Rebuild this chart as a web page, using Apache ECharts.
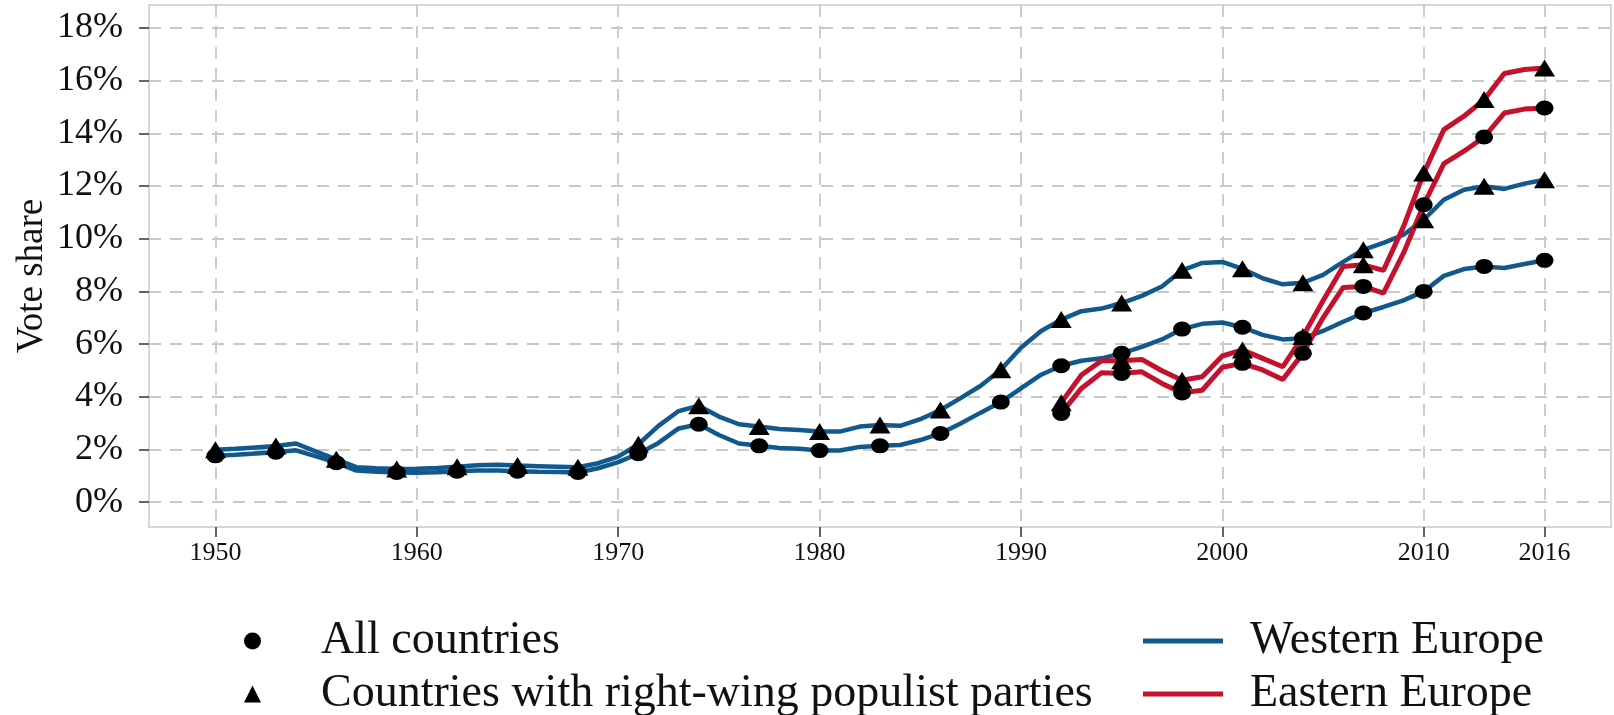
<!DOCTYPE html>
<html>
    <head>
        <meta charset=utf-8>
        <style>
            html, body { margin: 0; padding: 0; background: #fff; }
        </style>
    </head>
    <body>
        <div id="chart" style="width:1614px;height:715px"></div>
        <script src="https://cdn.jsdelivr.net/npm/echarts@6/dist/echarts.min.js"></script>
        <script type="text/javascript">

            var myChart = echarts.init(document.querySelector('#chart'));

            // years 1950..2016, one value per year (vote share, %)
            let years = []
            for (let y = 1950; y <= 2016; y++) years.push(y)

            let westAll = [
                1.76, 1.80, 1.85, 1.90, 1.97, 1.74, 1.50, 1.20, 1.16, 1.13,
                1.12, 1.14, 1.18, 1.20, 1.20, 1.18, 1.16, 1.15, 1.13, 1.29,
                1.52, 1.84, 2.25, 2.80, 2.96, 2.55, 2.23, 2.14, 2.06, 2.03,
                1.96, 1.96, 2.10, 2.14, 2.17, 2.36, 2.61, 2.99, 3.40, 3.80,
                4.32, 4.84, 5.18, 5.37, 5.46, 5.65, 5.90, 6.18, 6.57, 6.77,
                6.82, 6.64, 6.35, 6.18, 6.22, 6.50, 6.85, 7.18, 7.41, 7.66,
                8.00, 8.59, 8.85, 8.95, 8.89, 9.04, 9.18
            ]
            let westRwp = [
                1.99, 2.03, 2.08, 2.13, 2.23, 1.92, 1.63, 1.33, 1.29, 1.26,
                1.27, 1.30, 1.35, 1.40, 1.42, 1.39, 1.37, 1.35, 1.33, 1.48,
                1.73, 2.20, 2.90, 3.46, 3.66, 3.25, 2.96, 2.87, 2.78, 2.74,
                2.68, 2.68, 2.87, 2.93, 2.90, 3.15, 3.50, 3.95, 4.42, 5.03,
                5.86, 6.50, 6.93, 7.25, 7.35, 7.56, 7.83, 8.19, 8.80, 9.08,
                9.12, 8.86, 8.50, 8.27, 8.33, 8.63, 9.12, 9.58, 9.84, 10.15,
                10.72, 11.48, 11.86, 11.99, 11.89, 12.09, 12.24
            ]
            // Eastern Europe starts in 1992
            let eastStart = 1992
            let eastAll = [
                3.37, 4.32, 4.91, 4.89, 4.95, 4.51, 4.15, 4.25, 5.12, 5.27,
                5.02, 4.66, 5.65, 7.00, 8.15, 8.19, 7.94, 9.46, 11.29, 12.85,
                13.32, 13.86, 14.77, 14.92, 14.96
            ]
            let eastRwp = [
                3.78, 4.83, 5.37, 5.37, 5.42, 4.99, 4.63, 4.76, 5.55, 5.78,
                5.46, 5.14, 6.29, 7.65, 8.95, 9.01, 8.80, 10.47, 12.49, 14.14,
                14.65, 15.28, 16.27, 16.42, 16.48
            ]

            let xTicks = [1950, 1960, 1970, 1980, 1990, 2000, 2010, 2016]
            let yTicks = [0, 2, 4, 6, 8, 10, 12, 14, 16, 18]

            const BLUE = '#11598d'
            const RED = '#c4112e'
            const FONT = 'Liberation Serif'

            function pairs(start, vals) {
                return vals.map((v, i) => [start + i, v])
            }
            // a marker every third year, counted from 1950
            function markerEvery3(shape) {
                return function (value, params) {
                    return (value[0] - 1950) % 3 === 0 ? shape : 'none'
                }
            }

            function lineSeries(name, start, vals, color, width, shape, size) {
                return {
                    name: name,
                    type: 'line',
                    data: pairs(start, vals),
                    showSymbol: true,
                    showAllSymbol: true,
                    symbol: markerEvery3(shape),
                    symbolSize: size,
                    itemStyle: {color: '#000'},
                    lineStyle: {color: color, width: width},
                    emphasis: {disabled: true},
                    animation: false
                }
            }

            // one legend box per row, so nothing wraps
            function legendRow(name, icon, color, left, top, w, h, pad) {
                return {
                    left: left,
                    top: top,
                    itemWidth: w,
                    itemHeight: h,
                    selectedMode: false,
                    padding: 0,
                    textStyle: {fontFamily: FONT, fontSize: 46, color: '#111', padding: [0, 0, 0, pad]},
                    data: [{name: name, icon: icon, itemStyle: {color: color}}]
                }
            }

            let option = {
            animation: false,
            grid: {
                left: 149,
                right: 3,
                top: 5,
                bottom: 188,
                show: true,
                borderColor: '#c9c9c9',
                borderWidth: 1.5
            },
            xAxis: {
                type: 'value',
                min: 1946.7,
                max: 2019.3,
                axisLine: {show: false, onZero: false},
                axisTick: {
                    show: true,
                    customValues: xTicks,
                    length: 10,
                    lineStyle: {color: '#333', width: 1.5}
                },
                axisLabel: {
                    customValues: xTicks,
                    formatter: (v) => String(v),
                    fontFamily: FONT,
                    fontSize: 26,
                    color: '#111',
                    margin: 13
                },
                splitLine: {
                    show: true,
                    lineStyle: {color: '#c8c8c8', width: 1.8, type: [12, 9]}
                }
            },
            yAxis: {
                type: 'value',
                min: -0.94,
                max: 18.87,
                axisLine: {show: false, onZero: false},
                axisTick: {
                    show: true,
                    customValues: yTicks,
                    length: 10,
                    lineStyle: {color: '#333', width: 1.5}
                },
                axisLabel: {
                    customValues: yTicks,
                    formatter: (v) => v + '%',
                    fontFamily: FONT,
                    fontSize: 36,
                    color: '#111',
                    margin: 26
                },
                splitLine: {
                    show: true,
                    lineStyle: {color: '#c8c8c8', width: 1.8, type: [12, 9]}
                }
            },
            graphic: [{
                type: 'text',
                x: 32,
                y: 276,
                rotation: Math.PI / 2,
                style: {
                    text: 'Vote share',
                    font: '37px "Liberation Serif"',
                    fill: '#111',
                    align: 'center',
                    verticalAlign: 'middle'
                }
            }],
            legend: [
                legendRow('All countries', 'circle', '#000', 244, 618, 17, 17, 55),
                legendRow('Countries with right-wing populist parties', 'triangle', '#000', 244, 671, 17, 17, 55),
                legendRow('Western Europe', 'rect', BLUE, 1143, 618, 80, 5, 22),
                legendRow('Eastern Europe', 'rect', RED, 1143, 671, 80, 5, 22)
            ],
            series: [
                lineSeries('WE all', 1950, westAll, BLUE, 4.5, 'circle', [18, 15]),
                lineSeries('WE rwp', 1950, westRwp, BLUE, 4.5, 'triangle', [21, 17]),
                lineSeries('EE all', eastStart, eastAll, RED, 5, 'circle', [18, 15]),
                lineSeries('EE rwp', eastStart, eastRwp, RED, 5, 'triangle', [21, 17]),
                // legend-only entries
                {name: 'All countries', type: 'line', data: [], itemStyle: {color: '#000'}},
                {name: 'Countries with right-wing populist parties', type: 'line', data: [], itemStyle: {color: '#000'}},
                {name: 'Western Europe', type: 'line', data: [], itemStyle: {color: BLUE}, lineStyle: {color: BLUE}},
                {name: 'Eastern Europe', type: 'line', data: [], itemStyle: {color: RED}, lineStyle: {color: RED}}
            ]
            }
            myChart.setOption(option);
        </script>
    </body>
</html>
